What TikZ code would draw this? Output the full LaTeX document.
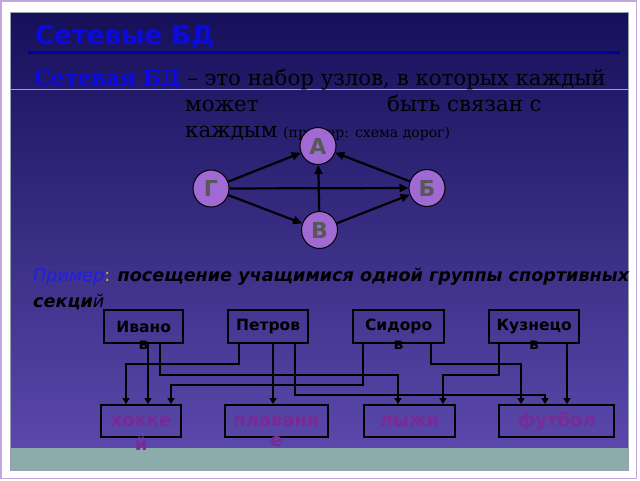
\documentclass[tikz,border=0pt]{standalone}
\usepackage{fontspec}
\setmainfont{DejaVu Serif}
\newfontfamily\dsans{DejaVu Sans}
\usetikzlibrary{shapes.geometric,arrows.meta}
\definecolor{bgtop}{RGB}{22,16,90}
\definecolor{bgbot}{RGB}{90,72,170}
\definecolor{stripc}{RGB}{140,172,172}
\definecolor{titleblue}{RGB}{10,10,225}
\definecolor{ulblue}{RGB}{0,0,160}
\definecolor{nodefill}{RGB}{160,105,212}
\definecolor{nodetext}{RGB}{88,88,88}
\definecolor{sportc}{RGB}{122,42,152}
\definecolor{framec}{RGB}{196,164,220}
\definecolor{slideedge}{RGB}{150,160,175}
\definecolor{colonc}{RGB}{200,180,60}
\definecolor{exblue}{RGB}{30,30,230}
\definecolor{rulec}{RGB}{160,160,190}
\begin{document}
\begin{tikzpicture}[x=1pt,y=-1pt,
  gnode/.style={ellipse, draw=black, line width=1pt, fill=nodefill, minimum width=36pt, minimum height=37pt, inner sep=0pt, text=nodetext, font=\dsans\bfseries\fontsize{22}{22}\selectfont},
  garr/.style={line width=2.2pt, -{Triangle[length=9pt,width=8pt]}},
  pbox/.style={draw=black, line width=2.2pt, minimum height=33pt, inner sep=0pt, anchor=north west, font=\dsans\bfseries\fontsize{15.5}{15.5}\selectfont, text=black},
  plbl/.style={font=\dsans\bfseries\fontsize{15.5}{15.5}\selectfont, text=black, inner sep=0pt, label distance=-3pt},
  sbox/.style={draw=black, line width=2.2pt, minimum height=32pt, inner sep=0pt, anchor=north west, font=\dsans\bfseries\fontsize{18}{18}\selectfont, text=sportc},
  slbl/.style={font=\dsans\bfseries\fontsize{18}{18}\selectfont, text=sportc, inner sep=0pt, label distance=-2pt},
  cn/.style={line width=2.2pt, -{Triangle[length=6pt,width=7pt]}},
  txt/.style={anchor=base west, inner sep=0pt},
]
\useasboundingbox (0,0) rectangle (640,480);
\fill[white] (0,0) rectangle (640,480);
\draw[framec, line width=1.5pt] (0.75,0.75) rectangle (636.5,478.5);
% slide
\shade[top color=bgtop, bottom color=bgbot] (10,12) rectangle (628,448);
\fill[stripc] (10,448) rectangle (628,470);
\draw[slideedge, line width=1pt] (10,12) rectangle (628,470);
% title
\node[txt, text=titleblue, font=\dsans\bfseries\fontsize{26}{26}\selectfont] (title) at (35,44) {Сетевые БД};
\draw[ulblue, line width=3pt] (28,52.5) -- (620,52.5);
\draw[rulec, line width=0.8pt] (10,89.5) -- (628,89.5);
% definition
\node[txt, font=\fontsize{21.3}{21.3}\selectfont] (l1) at (34,85) {{\color{titleblue}\bfseries Сетевая БД} – это набор узлов, в которых каждый};
\node[txt, font=\fontsize{21.3}{21.3}\selectfont] (l2a) at (185,111) {может};
\node[txt, font=\fontsize{21.3}{21.3}\selectfont] (l2b) at (387,111) {быть связан с};
\node[txt, font=\fontsize{21.3}{21.3}\selectfont] (l3a) at (185,137) {каждым};
\node[txt, font=\fontsize{14}{14}\selectfont] (l3b) at (283,137) {(пример: схема дорог)};
% graph
\node[gnode] (A) at (318,146) {А};
\node[gnode] (G) at (211,188.5) {Г};
\node[gnode] (B) at (427,188) {Б};
\node[gnode] (V) at (319.5,230) {В};
\draw[garr] (G) -- (A);
\draw[garr] (B) -- (A);
\draw[garr] (V) -- (A);
\draw[garr] (G) -- (B);
\draw[garr] (G) -- (V);
\draw[garr] (V) -- (B);
% example
\node[txt, font=\dsans\fontsize{17.6}{17.6}\selectfont] (ex1) at (33,281) {{\color{exblue}\itshape Пример}{\color{colonc}:} {\bfseries\itshape посещение учащимися одной группы спортивных}};
\node[txt, font=\dsans\fontsize{17.6}{17.6}\selectfont] (ex2) at (33,307) {{\bfseries\itshape секци}{\itshape й}};
% pupils
\node[pbox, minimum width=79pt, label={[plbl]below:в}] (iv) at (103,309) {Ивано};
\node[pbox, minimum width=80pt] (pt) at (227,309) {Петров};
\node[pbox, minimum width=91pt, label={[plbl]below:в}] (sd) at (352,309) {Сидоро};
\node[pbox, minimum width=90pt, label={[plbl]below:в}] (kz) at (488,309) {Кузнецо};
% sports
\node[sbox, minimum width=80pt, label={[slbl]below:й}] (hk) at (100,404) {хокке};
\node[sbox, minimum width=103pt, label={[slbl]below:е}] (pl) at (224,404) {плавани};
\node[sbox, minimum width=91pt] (lz) at (363,404) {лыжи};
\node[sbox, minimum width=115pt] (fb) at (498,404) {футбол};
% connectors
\draw[cn] ([xshift=12pt]pt.south west) -- ++(0,20) -| ([xshift=26pt]hk.north west);
\draw[cn] ([xshift=45pt]iv.south west) -- ([xshift=48pt]hk.north west);
\draw[cn] ([xshift=11pt]sd.south west) -- ++(0,41) -| ([xshift=71pt]hk.north west);
\draw[cn] ([xshift=57pt]iv.south west) -- ++(0,31) -| ([xshift=35pt]lz.north west);
\draw[cn] ([xshift=46pt]pt.south west) -- ([xshift=49pt]pl.north west);
\draw[cn] ([xshift=68pt]pt.south west) -- ++(0,51) -| ([xshift=47pt]fb.north west);
\draw[cn] ([xshift=79pt]sd.south west) -- ++(0,20) -| ([xshift=23pt]fb.north west);
\draw[cn] ([xshift=11pt]kz.south west) -- ++(0,31) -| ([xshift=80pt]lz.north west);
\draw[cn] ([xshift=79pt]kz.south west) -- ([xshift=69pt]fb.north west);
\end{tikzpicture}
\end{document}
